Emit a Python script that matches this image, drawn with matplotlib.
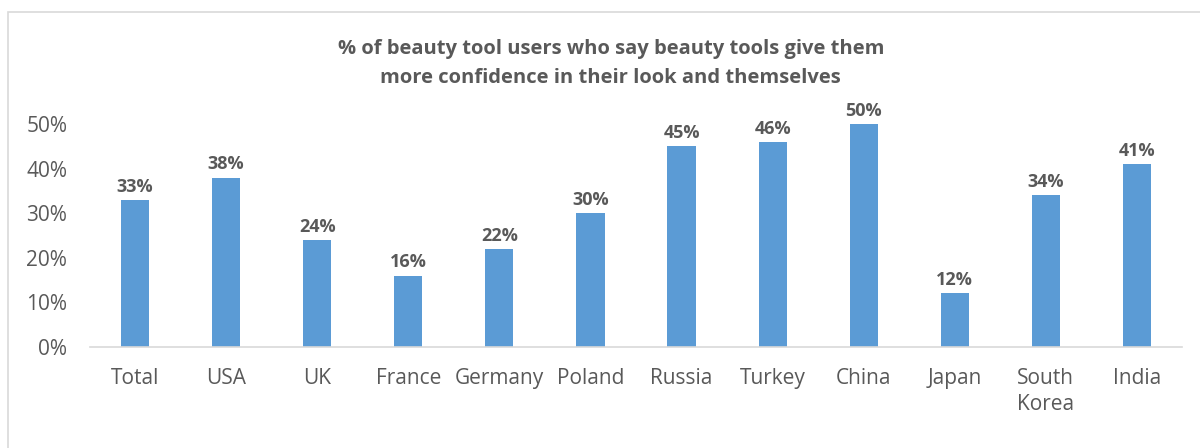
import matplotlib.pyplot as plt
from matplotlib.patches import Rectangle
from matplotlib.ticker import PercentFormatter

plt.rcParams['font.family'] = ['Open Sans', 'DejaVu Sans']

countries = ['Total', 'USA', 'UK', 'France', 'Germany', 'Poland', 'Russia',
             'Turkey', 'China', 'Japan', 'South\nKorea', 'India']
shares = [0.33, 0.38, 0.24, 0.16, 0.22, 0.30, 0.45, 0.46, 0.50, 0.12, 0.34, 0.41]
title = ('% of beauty tool users who say beauty tools give them\n'
         'more confidence in their look and themselves')

bar_col = '#5B9BD5'
txt_col = '#595959'
grid_col = '#D9D9D9'

fig = plt.figure(figsize=(12, 4.48), dpi=100)
ax = fig.add_axes([0.0746, 0.2254, 0.9108, 0.4978])

x = range(len(countries))
bars = ax.bar(x, shares, width=0.31, color=bar_col, zorder=2)
for b, v in zip(bars, shares):
    ax.annotate('{:.0f}%'.format(v * 100), (b.get_x() + b.get_width() / 2, v),
                xytext=(0, 3), textcoords='offset points', ha='center', va='bottom',
                fontsize=13, fontweight='bold', color=txt_col)

ax.set_xlim(-0.5, len(countries) - 0.5)
ax.set_ylim(0, 0.5)
ax.set_yticks([0, 0.1, 0.2, 0.3, 0.4, 0.5])
ax.yaxis.set_major_formatter(PercentFormatter(1.0, decimals=0))
ax.set_xticks(list(x))
ax.set_xticklabels(countries, linespacing=1.35, va='top')
ax.tick_params(axis='both', length=0, labelsize=15, colors=txt_col)
ax.tick_params(axis='x', pad=15)
ax.tick_params(axis='y', pad=16)
for s in ['top', 'right', 'left']:
    ax.spines[s].set_visible(False)
ax.spines['bottom'].set_color(grid_col)
ax.spines['bottom'].set_linewidth(1.2)

fig.text(0.509, 0.912, title, ha='center', va='top', fontsize=14.5,
         fontweight='bold', color=txt_col, linespacing=1.6)

# light chart-area frame, cut off on right and bottom like the screenshot
fig.patches.append(Rectangle((8 / 1200, -0.1), 1.1, 1.1 - 12 / 448,
                             transform=fig.transFigure, fill=False,
                             edgecolor=grid_col, linewidth=1.2))

fig.savefig('out.png', dpi=100)
